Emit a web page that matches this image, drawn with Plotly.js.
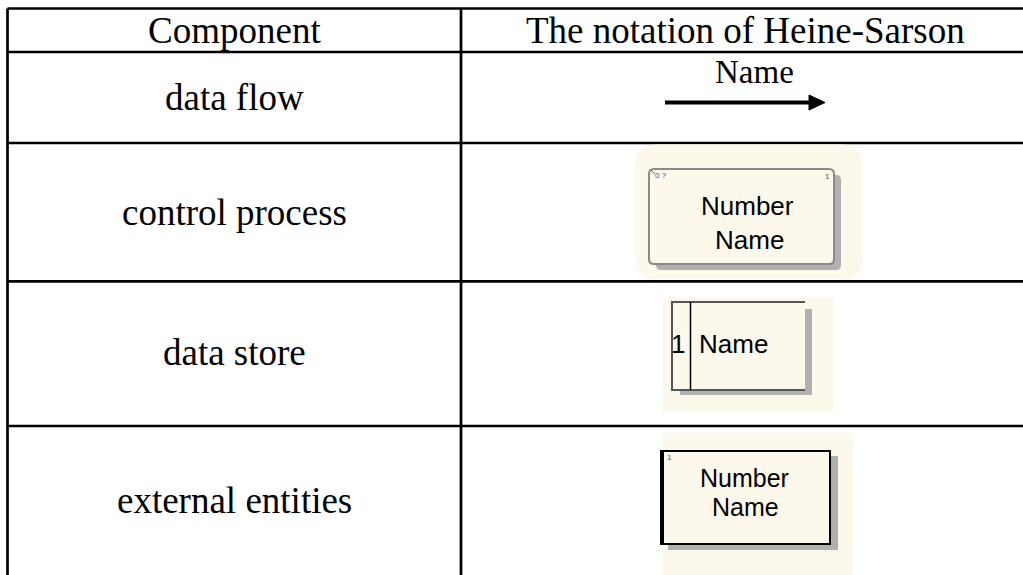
<!DOCTYPE html>
<html>
<head>
<meta charset="utf-8">
<script src="https://cdn.plot.ly/plotly-3.0.1.min.js"></script>
<style>
html,body{margin:0;padding:0;background:#fff;overflow:hidden;}
#chart{width:1023px;height:575px;}
</style>
</head>
<body>
<div id="chart"></div>
<script>
// ---- content ----
const headers = ["Component", "The notation of Heine-Sarson"];
const components = ["data flow", "control process", "data store", "external entities"];
const flowLabel = "Name";
const processLines = ["Number", "Name"];
const processTags = ["0 ?", "1"];
const storeId = "1";
const storeName = "Name";
const entityLines = ["Number", "Name"];
const entityTag = "1";

// ---- layout geometry (pixel space) ----
const W = 1023, H = 575;
const rowLines = [8.5, 52, 143, 281.3, 426];
const colLines = [7.5, 461];
const headerY = 30;
const labelYs = [97.5, 212.5, 352.5, 500.5];
const leftX = 234, rightX = 745;

const serif = "Liberation Serif, Times New Roman, serif";
const sans = "Liberation Sans, Arial, sans-serif";
const cream = "#fdf8ec";
const shadow = "#b0b0b0";

function rr(x0, y0, x1, y1, r) {
  return `M${x0 + r},${y0} L${x1 - r},${y0} Q${x1},${y0} ${x1},${y0 + r} L${x1},${y1 - r} Q${x1},${y1} ${x1 - r},${y1} L${x0 + r},${y1} Q${x0},${y1} ${x0},${y1 - r} L${x0},${y0 + r} Q${x0},${y0} ${x0 + r},${y0} Z`;
}

const shapes = [];
// table lines
rowLines.forEach(y => shapes.push({type: 'line', x0: colLines[0], x1: W + 5, y0: y, y1: y, line: {color: '#000', width: 2.7}}));
colLines.forEach(x => shapes.push({type: 'line', x0: x, x1: x, y0: rowLines[0], y1: H + 5, line: {color: '#000', width: 2.7}}));

// data flow arrow
shapes.push({type: 'line', x0: 665, x1: 812, y0: 102.5, y1: 102.5, line: {color: '#000', width: 4}});
shapes.push({type: 'path', path: 'M809,95 L825,102.5 L809,110 Z', fillcolor: '#000', line: {color: '#000', width: 1}});

// control process
shapes.push({type: 'path', path: rr(635, 144.5, 863, 279.5, 22), fillcolor: cream, line: {width: 0}});
shapes.push({type: 'path', path: rr(656, 175, 841, 270, 5), fillcolor: shadow, line: {width: 0}});
shapes.push({type: 'path', path: rr(649, 169, 834, 264, 5), fillcolor: cream, line: {color: '#8a8a8a', width: 2}});
shapes.push({type: 'line', x0: 650, y0: 169, x1: 655, y1: 174, line: {color: '#666', width: 1}});

// data store
shapes.push({type: 'rect', x0: 663, x1: 833, y0: 298, y1: 411, fillcolor: cream, line: {width: 0}});
shapes.push({type: 'rect', x0: 680, x1: 812, y0: 309, y1: 395, fillcolor: shadow, line: {width: 0}});
shapes.push({type: 'rect', x0: 672, x1: 805, y0: 302, y1: 390, fillcolor: cream, line: {width: 0}});
shapes.push({type: 'path', path: 'M805,302 L672,302 L672,390 L805,390', line: {color: '#555', width: 2}});
shapes.push({type: 'line', x0: 690.5, x1: 690.5, y0: 302, y1: 390, line: {color: '#000', width: 1.5}});

// external entities
shapes.push({type: 'rect', x0: 662, x1: 853, y0: 433, y1: H + 5, fillcolor: cream, line: {width: 0}});
shapes.push({type: 'rect', x0: 668, x1: 838, y0: 456, y1: 550, fillcolor: shadow, line: {width: 0}});
shapes.push({type: 'rect', x0: 661, x1: 830, y0: 451, y1: 544, fillcolor: cream, line: {color: '#000', width: 2}});
shapes.push({type: 'line', x0: 662, x1: 662, y0: 451, y1: 544, line: {color: '#000', width: 4}});

const annotations = [];
function txt(x, y, text, size, family, color, xanchor) {
  annotations.push({x: x, y: y, xref: 'x', yref: 'y', text: text, showarrow: false,
    xanchor: xanchor || 'center', yanchor: 'middle',
    font: {size: size, family: family, color: color || '#000'}});
}
txt(leftX, headerY, headers[0], 37, serif);
txt(rightX, headerY, headers[1], 37, serif);
components.forEach((c, i) => txt(leftX, labelYs[i], c, 37, serif));

txt(754, 72, flowLabel, 33, serif);

txt(747, 206, processLines[0], 26, sans, '#000');
txt(749, 240, processLines[1], 26, sans, '#000');
txt(653, 175, processTags[0], 8, sans, '#5a4a7a', 'left');
txt(832, 176, processTags[1], 8, sans, '#5a4a7a', 'right');

txt(678, 344, storeId, 26, sans, '#000');
txt(733, 344, storeName, 26, sans, '#000');

txt(744, 478, entityLines[0], 25, sans, '#000');
txt(745, 507, entityLines[1], 25, sans, '#000');
txt(665, 457, entityTag, 8, sans, '#5a4a7a', 'left');

const layout = {
  width: W, height: H,
  margin: {l: 0, r: 0, t: 0, b: 0, pad: 0},
  paper_bgcolor: '#fff', plot_bgcolor: '#fff',
  xaxis: {range: [0, W], visible: false, fixedrange: true},
  yaxis: {range: [H, 0], visible: false, fixedrange: true},
  showlegend: false,
  shapes: shapes,
  annotations: annotations
};
Plotly.newPlot('chart', [{x: [], y: [], type: 'scatter', mode: 'markers', hoverinfo: 'skip'}], layout, {staticPlot: true, displayModeBar: false});
</script>
</body>
</html>
